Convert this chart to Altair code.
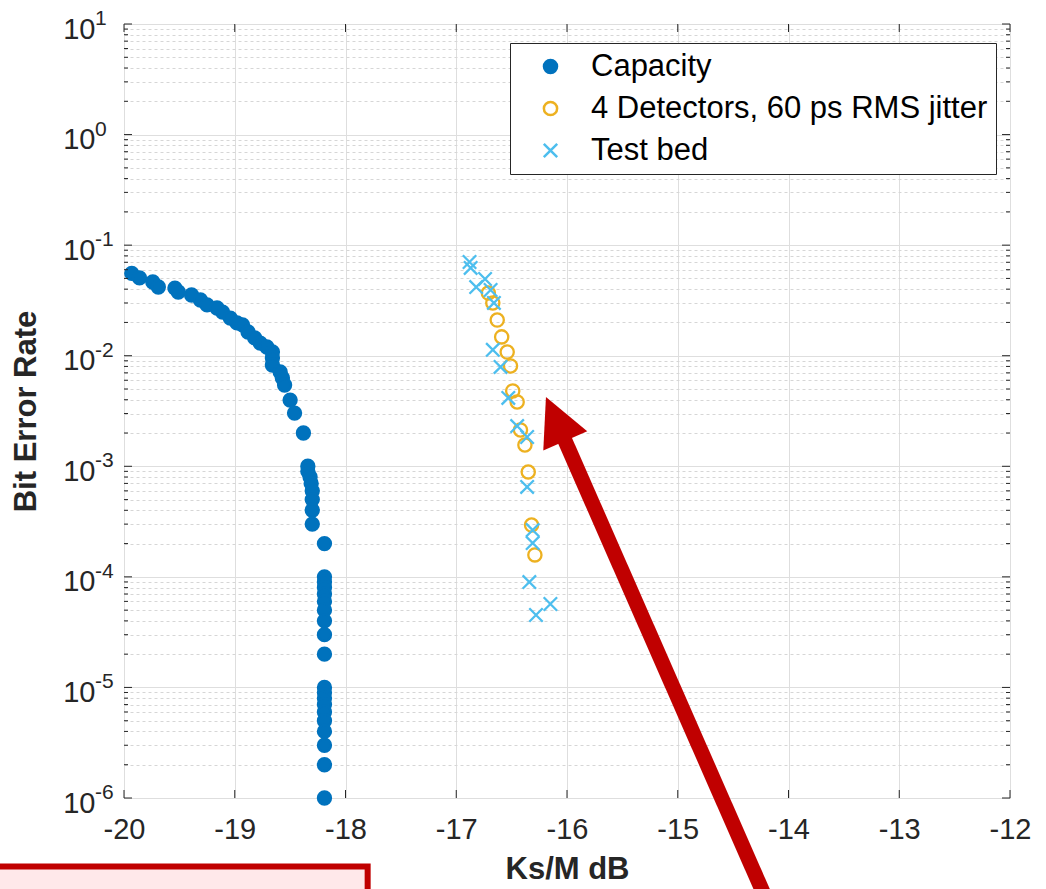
import altair as alt
import pandas as pd

# ---------------- data ----------------
series_names = ["Capacity", "4 Detectors, 60 ps RMS jitter", "Test bed"]

cap_x = [-19.93, -19.86, -19.74, -19.69, -19.54, -19.51, -19.39, -19.31, -19.25,
         -19.16, -19.11, -19.04, -18.98, -18.93, -18.88, -18.82, -18.77, -18.71,
         -18.66, -18.66, -18.66, -18.59, -18.57, -18.55, -18.50, -18.46, -18.38,
         -18.34, -18.34, -18.32, -18.31, -18.30, -18.30, -18.30, -18.30,
         -18.19,
         -18.19, -18.19, -18.19, -18.19, -18.19, -18.19, -18.19, -18.19, -18.19, -18.19,
         -18.19, -18.19, -18.19, -18.19, -18.19, -18.19, -18.19, -18.19, -18.19]
cap_y = [0.0556, 0.0505, 0.0464, 0.0418, 0.0409, 0.0377, 0.0354, 0.0319, 0.0288,
         0.0270, 0.0248, 0.0219, 0.0198, 0.0190, 0.0164, 0.0145, 0.0130, 0.0120,
         0.0108, 0.00953, 0.00824, 0.00713, 0.00629, 0.00543, 0.00397, 0.00303, 0.0020,
         1e-3, 9e-4, 8e-4, 7e-4, 6e-4, 5e-4, 4e-4, 3e-4,
         2e-4,
         1e-4, 9e-5, 8e-5, 7e-5, 6e-5, 5e-5, 4e-5, 3e-5, 2e-5, 1e-5,
         9e-6, 8e-6, 7e-6, 6e-6, 5e-6, 4e-6, 3e-6, 2e-6, 1e-6]

det_x = [-16.71, -16.67, -16.63, -16.59, -16.54, -16.51, -16.49, -16.45, -16.42,
         -16.38, -16.35, -16.32, -16.29]
det_y = [0.0369, 0.0300, 0.0210, 0.0148, 0.0108, 0.00808, 0.00480, 0.00382, 0.00213,
         0.00156, 0.000888, 0.000294, 0.000158]

tb_x = [-16.88, -16.87, -16.82, -16.74, -16.69, -16.66, -16.67, -16.60, -16.53,
        -16.45, -16.36, -16.36, -16.31, -16.31, -16.34, -16.15, -16.28]
tb_y = [0.0704, 0.0622, 0.0418, 0.0494, 0.0393, 0.0300, 0.0113, 0.00791, 0.00415,
        0.00231, 0.00184, 0.000650, 0.000265, 0.000202, 0.0000897, 0.0000568, 0.0000452]

x_ticks = [-20, -19, -18, -17, -16, -15, -14, -13, -12]
y_major = [1e-6, 1e-5, 1e-4, 1e-3, 1e-2, 1e-1, 1e0, 1e1]
y_exponents = ["-6", "-5", "-4", "-3", "-2", "-1", "0", "1"]
y_minor = [m * 10.0 ** k for k in range(-6, 1) for m in range(2, 10)]

# annotation (red arrow and red box), in data coordinates
arrow_tip = {"x": -16.19, "y": 0.004232}
arrow_shaft = {"x": -16.08, "y": 0.002362, "x2": -13.96, "y2": 3.4e-8}
note_box = {"x": -21.30, "x2": -17.80, "y": 2.40e-7, "y2": 4.2e-8}

# ---------------- layout / style ----------------
W, H = 886, 774
FONT = "Liberation Sans"
DARK = "#262626"

df = pd.DataFrame(
    {"series": [series_names[0]] * len(cap_x) + [series_names[1]] * len(det_x) + [series_names[2]] * len(tb_x),
     "x": cap_x + det_x + tb_x,
     "y": cap_y + det_y + tb_y})
df["order"] = df["series"].map({n: i for i, n in enumerate(series_names)})

xs = alt.Scale(domain=[-20, -12], nice=False, zero=False)
ys = alt.Scale(type="log", domain=[1e-6, 10], nice=False)

major_test = "abs(log(datum.value)/LN10 - round(log(datum.value)/LN10)) < 0.001"

x_axis = alt.Axis(values=x_ticks, grid=True, gridColor="#DEDEDE", gridWidth=1,
                  ticks=False, domain=False, labelFont=FONT, labelFontSize=29,
                  labelExpr="'' + datum.value", labelFlush=False,
                  labelColor=DARK, labelPadding=17, title="Ks/M dB", titleFont=FONT,
                  titleFontSize=31, titleFontWeight="bold", titleColor=DARK, titlePadding=10)
y_axis = alt.Axis(values=y_major + y_minor, grid=True,
                  gridColor={"condition": {"test": major_test, "value": "#DEDEDE"}, "value": "#D6D6D6"},
                  gridDash={"condition": {"test": major_test, "value": []}, "value": [3, 3]},
                  ticks=False, domain=False,
                  labelExpr=major_test + " ? '10' : ''",
                  labelFont=FONT, labelFontSize=29, labelColor=DARK, labelPadding=29,
                  labelOffset=5, labelOverlap=False,
                  title="Bit Error Rate", titleFont=FONT, titleFontSize=31,
                  titleFontWeight="bold", titleColor=DARK, titlePadding=20)

leg = alt.Legend(title=None, orient="none", legendX=386, legendY=19,
                 strokeColor=DARK, fillColor="white", padding=8,
                 symbolOffset=17, labelOffset=25, labelFont=FONT, labelFontSize=31,
                 labelColor="#000000", rowPadding=10,
                 symbolStrokeWidth=2.5, labelLimit=1000)


def X(field="x"):
    return alt.X(f"{field}:Q", scale=xs, axis=x_axis)


def Y(field="y"):
    return alt.Y(f"{field}:Q", scale=ys, axis=y_axis)


points = alt.Chart(df).mark_point(opacity=1, strokeWidth=2.3).encode(
    x=X(), y=Y(),
    fill=alt.Fill("series:N", scale=alt.Scale(domain=series_names,
                  range=["#0072BD", "transparent", "#4DBEEE"]), legend=leg),
    stroke=alt.Stroke("series:N", scale=alt.Scale(domain=series_names,
                      range=["#0072BD", "#EDB120", "#4DBEEE"]), legend=leg),
    shape=alt.Shape("series:N", scale=alt.Scale(domain=series_names,
                    range=["circle", "circle", "M-1,-1L1,1M-1,1L1,-1"]), legend=leg),
    size=alt.Size("series:N", scale=alt.Scale(domain=series_names, range=[170, 180, 100]),
                  legend=leg),
    order=alt.Order("order:Q"),
)

# inward tick marks (MATLAB style box)
xt = pd.DataFrame({"x": x_ticks})
ymj = pd.DataFrame({"y": y_major})
ymn = pd.DataFrame({"y": y_minor})
tick_style = dict(color=DARK, strokeWidth=1)
ticks = [
    alt.Chart(xt).mark_rule(**tick_style).encode(x=X(), y=alt.value(H), y2=alt.value(H - 8)),
    alt.Chart(xt).mark_rule(**tick_style).encode(x=X(), y=alt.value(0), y2=alt.value(8)),
    alt.Chart(ymj).mark_rule(**tick_style).encode(y=Y(), x=alt.value(0), x2=alt.value(8)),
    alt.Chart(ymj).mark_rule(**tick_style).encode(y=Y(), x=alt.value(W - 8), x2=alt.value(W)),
    alt.Chart(ymn).mark_rule(**tick_style).encode(y=Y(), x=alt.value(0), x2=alt.value(4)),
    alt.Chart(ymn).mark_rule(**tick_style).encode(y=Y(), x=alt.value(W - 4), x2=alt.value(W)),
]

exp_df = pd.DataFrame({"y": y_major, "e": y_exponents})
exps = alt.Chart(exp_df).mark_text(align="left", baseline="middle", font=FONT, fontSize=21,
                                   color=DARK, dy=-5).encode(
    y=Y(), x=alt.value(-29), text="e:N")

ann_red = "#C00000"
box = alt.Chart(pd.DataFrame([note_box])).mark_rect(
    fill="#FFE8EA", stroke=ann_red, strokeWidth=6, clip=False).encode(
    x=X(), x2="x2:Q", y=Y(), y2="y2:Q")
shaft = alt.Chart(pd.DataFrame([arrow_shaft])).mark_rule(
    color=ann_red, strokeWidth=15, clip=False).encode(
    x=X(), x2="x2:Q", y=Y(), y2="y2:Q")
head = alt.Chart(pd.DataFrame([arrow_tip])).mark_point(
    shape="M0,0L1,2L-1,2Z", size=2304, filled=True, fill=ann_red, stroke=ann_red,
    strokeWidth=0, opacity=1, angle=336.3, clip=False).encode(
    x=X(), y=Y())

chart = alt.layer(points, *ticks, exps, box, shaft, head).properties(
    width=W, height=H,
    padding={"left": 124, "top": 24, "right": 36, "bottom": 91},
    autosize=alt.AutoSizeParams(type="none"),
).configure_view(stroke=DARK, strokeWidth=1.5).configure(background="white")

chart.save("out.html", embed_options={"renderer": "svg", "actions": False})
